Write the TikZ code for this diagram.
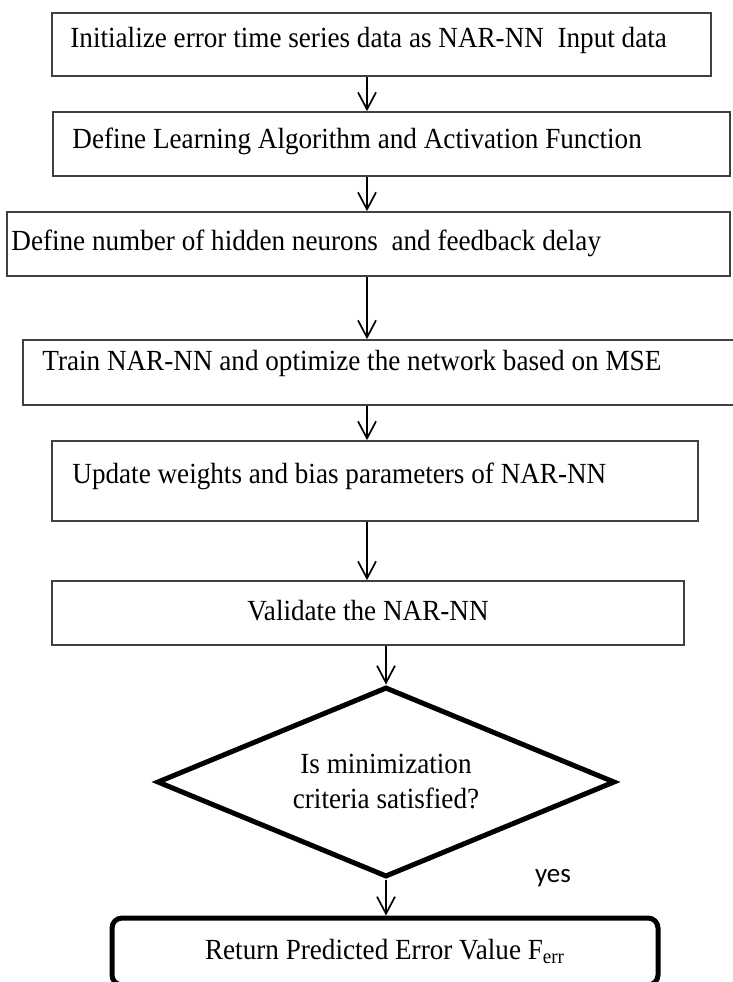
\documentclass[tikz,border=0pt]{standalone}
\usepackage{graphicx}
\usepackage{fontspec}
\setmainfont{Liberation Serif}
\newfontfamily\yesfont{Carlito}
\usetikzlibrary{shapes.geometric,arrows.meta}
% narrow serif text as in the figure
\newcommand{\nw}[1]{\scalebox{0.93}[1]{#1}}

\begin{document}
\begin{tikzpicture}[x=0.5pt,y=-0.5pt,
        box/.style={rectangle,draw=black!75,line width=0.85pt,inner sep=0pt},
        txt/.style={anchor=base west,inner sep=0pt,font=\fontsize{14.6}{17.5}\selectfont},
        arr/.style={-{Straight Barb[length=8.5pt,width=9pt]},line width=0.85pt}]
            \useasboundingbox (0,0) rectangle (733,982);

            \draw (381.5,44.5) node (init) [box,minimum width=329.5pt,minimum height=31.5pt] {};
            \draw (391.5,144) node (learn) [box,minimum width=338.5pt,minimum height=32pt] {};
            \draw (368.5,244) node (hidden) [box,minimum width=361.5pt,minimum height=32pt] {};
            \draw (379.5,372.5) node (train) [box,minimum width=356.5pt,minimum height=32.5pt] {};
            \draw (375,481) node (update) [box,minimum width=323pt,minimum height=40pt] {};
            \draw (368,613) node (valid) [box,minimum width=316pt,minimum height=32pt] {};

            \draw (70,47) node (tinit) [txt] {\nw{Initialize error time series data as NAR-NN~ Input data}};
            \draw (72,148) node (tlearn) [txt] {\nw{Define Learning Algorithm and Activation Function}};
            \draw (11,250) node (thidden) [txt] {\nw{Define number of hidden neurons~ and feedback delay}};
            \draw (42,370) node (ttrain) [txt] {\nw{Train NAR-NN and optimize the network based on MSE}};
            \draw (72,483) node (tupdate) [txt] {\nw{Update weights and bias parameters of NAR-NN}};
            \draw (368,620) node (tvalid) [txt,anchor=base] {\nw{Validate the NAR-NN}};

            \draw (386,782) node (crit) [diamond,aspect=2.41,draw,line width=2.5pt,minimum width=229pt,minimum height=95pt,inner sep=0pt,align=center,font=\fontsize{14.6}{17.5}\selectfont] {\nw{Is minimization}\\\nw{criteria satisfied?}};
            \draw (385,951.5) node (ret) [rectangle,rounded corners=5pt,draw,line width=2.5pt,minimum width=273pt,minimum height=33.5pt,inner sep=0pt,font=\fontsize{14.6}{17.5}\selectfont] {\nw{Return Predicted Error Value F\textsubscript{err}}};
            \draw (553,882) node (yes) [anchor=base,inner sep=0pt,font=\yesfont\fontsize{13.5}{16}\selectfont] {yes};

            % arrows down the left column
            \coordinate (colA) at (367,0);
            \draw [arr] (init.south -| colA) -- (learn.north -| colA);
            \draw [arr] (learn.south -| colA) -- (hidden.north -| colA);
            \draw [arr] (hidden.south -| colA) -- (train.north -| colA);
            \draw [arr] (train.south -| colA) -- (update.north -| colA);
            \draw [arr] (update.south -| colA) -- (valid.north -| colA);
            \draw [arr] (valid.south -| crit.north) -- (crit.north);
            \draw [arr] (crit.south) -- (crit.south |- ret.north);
\end{tikzpicture}
\end{document}
